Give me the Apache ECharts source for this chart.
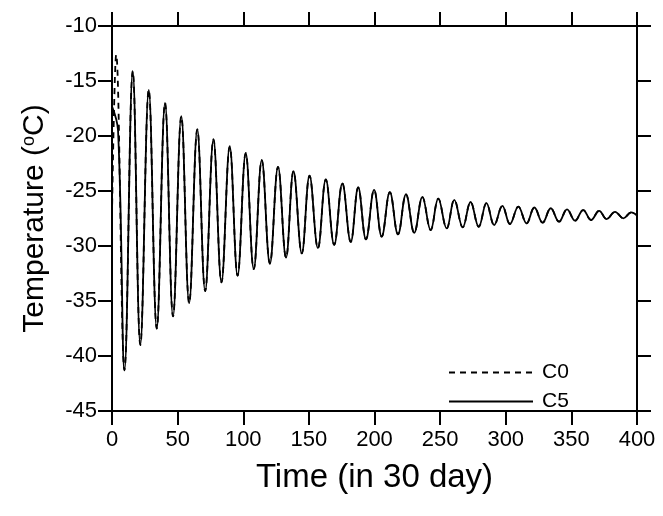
<!DOCTYPE html>
<html>
<head>
<meta charset="utf-8">
<script src="https://cdn.jsdelivr.net/npm/echarts@6/dist/echarts.min.js"></script>
<style>
html,body{margin:0;padding:0;background:#fff;}
#chart{width:663px;height:516px;}
</style>
</head>
<body>
<div id="chart"></div>
<script>
// Peaks of the annual oscillation (time in 30-day steps, temperature in °C)
const peakTimes = [15.8, 28.0, 40.4, 52.8, 65.0, 77.3, 89.7, 101.9, 114.1, 126.5, 138.3, 150.5, 162.9, 175.5, 187.6, 199.7, 211.7, 224.0, 236.5, 248.6, 260.8, 273.2, 285.3, 297.4, 309.6, 321.8, 334.3, 346.7, 359.0, 371.2, 383.3, 395.6];
const peakTemps = [-14.1, -15.8, -17.0, -18.2, -19.4, -20.3, -20.95, -21.55, -22.2, -22.8, -23.2, -23.6, -23.95, -24.3, -24.68, -24.9, -25.1, -25.3, -25.55, -25.7, -25.8, -26.0, -26.1, -26.36, -26.42, -26.5, -26.57, -26.67, -26.73, -26.8, -26.9, -26.94];
// Troughs
const troughTimes = [9.5, 21.6, 34.1, 46.5, 58.8, 71.0, 83.4, 95.7, 108.0, 120.3, 132.6, 144.6, 156.9, 169.3, 181.9, 193.5, 205.5, 217.9, 230.3, 242.8, 255.0, 267.2, 279.4, 291.2, 303.2, 315.9, 328.1, 340.6, 352.8, 365.0, 376.9, 389.6];
const troughTemps = [-41.3, -39.0, -37.5, -36.4, -35.2, -34.1, -33.3, -32.7, -32.1, -31.6, -31.06, -30.67, -30.2, -29.9, -29.63, -29.4, -29.15, -28.94, -28.8, -28.55, -28.4, -28.3, -28.25, -28.1, -28.0, -27.94, -27.88, -27.79, -27.7, -27.64, -27.55, -27.48];
// Start and end of each run
const c0StartTimes = [0, 3.2];
const c0StartTemps = [-27.2, -12.6];
const c5StartTimes = [0, 4.6];
const c5StartTemps = [-17.3, -19.5];
const endTimes = [400];
const endTemps = [-27.2];
// Axis ticks
const xTicks = [0, 50, 100, 150, 200, 250, 300, 350, 400];
const yTicks = [-45, -40, -35, -30, -25, -20, -15, -10];
const seriesNames = ['C0', 'C5'];

function pairs(ts, vs) { return ts.map((t, i) => [t, vs[i]]); }
const shared = pairs(peakTimes, peakTemps).concat(pairs(troughTimes, troughTemps), pairs(endTimes, endTemps)).sort((a, b) => a[0] - b[0]);
const c0Data = pairs(c0StartTimes, c0StartTemps).concat(shared);
const c5Data = pairs(c5StartTimes, c5StartTemps).concat(shared);

const FONT = '"Liberation Sans", Arial, sans-serif';
function axisLine() { return {show: true, onZero: false, lineStyle: {color: '#000', width: 2}}; }
function tick() { return {show: true, inside: false, length: 14, lineStyle: {color: '#000', width: 2}}; }

const chart = echarts.init(document.getElementById('chart'), null, {renderer: 'canvas'});
chart.setOption({
  backgroundColor: '#fff',
  animation: false,
  grid: {left: 112, right: 26, top: 26, bottom: 105, containLabel: false},
  legend: {
    data: seriesNames,
    orient: 'vertical',
    left: 443,
    top: 357,
    itemWidth: 84,
    itemHeight: 12,
    itemGap: 8,
    itemStyle: {opacity: 0},
    textStyle: {fontFamily: FONT, fontSize: 21, color: '#000', padding: [0, 0, 0, 4]}
  },
  xAxis: [{
    type: 'value', min: xTicks[0], max: xTicks[xTicks.length - 1], interval: 50,
    position: 'bottom',
    axisLine: axisLine(), axisTick: tick(), splitLine: {show: false},
    axisLabel: {fontFamily: FONT, fontSize: 22, color: '#000', margin: 18},
    name: 'Time (in 30 day)', nameLocation: 'middle', nameGap: 50,
    nameTextStyle: {fontFamily: FONT, fontSize: 33, color: '#000'}
  }, {
    type: 'value', min: xTicks[0], max: xTicks[xTicks.length - 1], interval: 50,
    position: 'top',
    axisLine: axisLine(), axisTick: tick(), splitLine: {show: false},
    axisLabel: {show: false}
  }],
  yAxis: [{
    type: 'value', min: yTicks[0], max: yTicks[yTicks.length - 1], interval: 5,
    position: 'left',
    axisLine: axisLine(), axisTick: tick(), splitLine: {show: false},
    axisLabel: {fontFamily: FONT, fontSize: 22, color: '#000', margin: 15},
    name: '{n|Temperature (}{s|o}{n|C)}', nameLocation: 'middle', nameGap: 62,
    nameTextStyle: {
      rich: {
        n: {fontFamily: FONT, fontSize: 30, color: '#000'},
        s: {fontFamily: FONT, fontSize: 18, color: '#000', verticalAlign: 'top', lineHeight: 16, padding: [0, 0, 14, 0]}
      }
    }
  }, {
    type: 'value', min: yTicks[0], max: yTicks[yTicks.length - 1], interval: 5,
    position: 'right',
    axisLine: axisLine(), axisTick: tick(), splitLine: {show: false},
    axisLabel: {show: false}
  }],
  series: [{
    name: seriesNames[0], type: 'line', data: c0Data,
    xAxisIndex: 0, yAxisIndex: 0,
    symbol: 'none', smooth: 0.4, z: 3,
    lineStyle: {color: '#000', width: 1.8, type: [6, 5]},
    itemStyle: {color: '#000'}
  }, {
    name: seriesNames[1], type: 'line', data: c5Data,
    xAxisIndex: 0, yAxisIndex: 0,
    symbol: 'none', smooth: 0.4, z: 2,
    lineStyle: {color: '#000', width: 1.8},
    itemStyle: {color: '#000'}
  }]
});
</script>
</body>
</html>
